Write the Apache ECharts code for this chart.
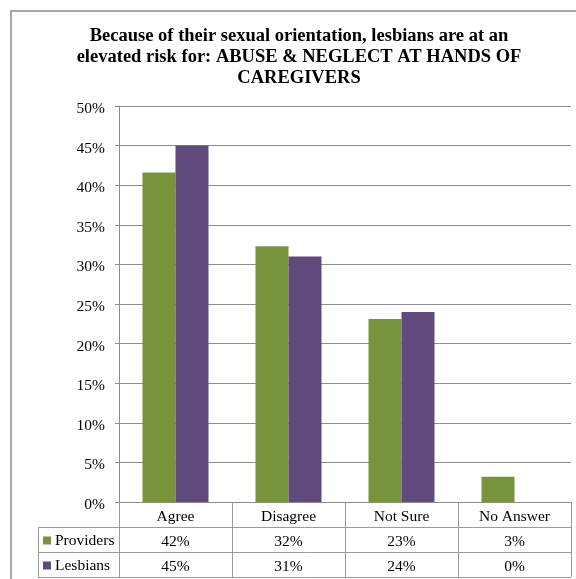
<!DOCTYPE html>
<html>
<head>
<meta charset="utf-8">
<script src="https://cdn.jsdelivr.net/npm/echarts@6/dist/echarts.min.js"></script>
<style>
html,body{margin:0;padding:0;background:#fff;}
#chart{width:576px;height:579px;}
</style>
</head>
<body>
<div id="chart"></div>
<script>
// ---- data ----
const categories = ['Agree', 'Disagree', 'Not Sure', 'No Answer'];
const providers = [41.6, 32.3, 23.1, 3.2];
const lesbians = [45, 31, 24, 0];
const providersLabels = ['42%', '32%', '23%', '3%'];
const lesbiansLabels = ['45%', '31%', '24%', '0%'];
const seriesNames = ['Providers', 'Lesbians'];
const yTicks = [0, 5, 10, 15, 20, 25, 30, 35, 40, 45, 50];
const titleText = 'Because of their sexual orientation, lesbians are at an\nelevated risk for: ABUSE & NEGLECT AT HANDS OF\nCAREGIVERS';

// ---- layout ----
const W = 576, H = 579;
const gridLeft = 119, gridTop = 106, gridRight = 571, gridBottom = 502;
const rowH = 25;
const tableLeft = 38;
const tableBottom = gridBottom + 3 * rowH;
const FONT = '"Liberation Serif", "Times New Roman", serif';
const lineCol = '#8c8c8c';
const tableCol = '#9a9a9a';

const chart = echarts.init(document.getElementById('chart'), null, {renderer: 'canvas'});

const option = {
  backgroundColor: '#fff',
  animation: false,
  grid: {
    left: gridLeft, top: gridTop,
    right: W - gridRight, bottom: H - gridBottom,
    containLabel: false
  },
  legend: {
    data: seriesNames,
    orient: 'vertical',
    left: 43, top: gridBottom + rowH + 1,
    icon: 'rect',
    itemWidth: 8, itemHeight: 8,
    itemGap: 0,
    padding: 0,
    selectedMode: false,
    textStyle: {fontFamily: FONT, fontSize: 15.5, color: '#000', lineHeight: rowH, padding: [0, 0, 0, -1]}
  },
  xAxis: {
    type: 'category',
    data: categories,
    boundaryGap: true,
    axisLine: {show: true, lineStyle: {color: lineCol, width: 1}},
    axisTick: {show: true, length: 3 * rowH, lineStyle: {color: tableCol, width: 1}},
    axisLabel: {
      interval: 0,
      hideOverlap: false,
      margin: 2,
      fontFamily: FONT,
      fontSize: 15.5,
      color: '#000',
      formatter: function (value, index) {
        return '{c|' + value + '}\n{c|' + providersLabels[index] + '}\n{c|' + lesbiansLabels[index] + '}';
      },
      rich: {c: {fontFamily: FONT, fontSize: 15.5, color: '#000', lineHeight: rowH, align: 'center'}}
    },
    splitLine: {show: false}
  },
  yAxis: {
    type: 'value',
    min: yTicks[0], max: yTicks[yTicks.length - 1], interval: 5,
    axisLine: {show: true, lineStyle: {color: lineCol, width: 1}},
    axisTick: {show: true, length: 4, inside: false, lineStyle: {color: lineCol}},
    axisLabel: {
      margin: 14,
      fontFamily: FONT, fontSize: 15.5, color: '#000',
      formatter: function (v) { return '{t|' + v + '%}'; },
      rich: {t: {fontFamily: FONT, fontSize: 15.5, color: '#000', padding: [6, 0, 0, 0]}}
    },
    splitLine: {show: true, lineStyle: {color: lineCol, width: 1}}
  },
  series: [
    {
      name: seriesNames[0], type: 'bar', data: providers,
      barGap: '0%', barCategoryGap: '41.6%',
      itemStyle: {color: '#77933C'}
    },
    {
      name: seriesNames[1], type: 'bar', data: lesbians,
      barGap: '0%', barCategoryGap: '41.6%',
      itemStyle: {color: '#604A7B'}
    }
  ],
  graphic: [
    {
      type: 'rect', silent: true, z: -1,
      shape: {x: 11, y: 11, width: 800, height: 800},
      style: {fill: 'none', stroke: '#a6a6a6', lineWidth: 2}
    },
    {
      type: 'text', silent: true,
      x: 299, y: 26,
      style: {
        text: titleText,
        font: 'bold 18.5px ' + FONT,
        lineHeight: 21,
        fill: '#000',
        align: 'center',
        verticalAlign: 'top'
      }
    },
    // table horizontal lines
    {type: 'line', silent: true, shape: {x1: tableLeft, y1: gridBottom + rowH + 0.5, x2: gridRight, y2: gridBottom + rowH + 0.5}, style: {stroke: tableCol, lineWidth: 1}},
    {type: 'line', silent: true, shape: {x1: tableLeft, y1: gridBottom + 2 * rowH + 0.5, x2: gridRight, y2: gridBottom + 2 * rowH + 0.5}, style: {stroke: tableCol, lineWidth: 1}},
    {type: 'line', silent: true, shape: {x1: tableLeft, y1: tableBottom + 0.5, x2: gridRight, y2: tableBottom + 0.5}, style: {stroke: tableCol, lineWidth: 1}},
    // table left edge
    {type: 'line', silent: true, shape: {x1: tableLeft + 0.5, y1: gridBottom + rowH, x2: tableLeft + 0.5, y2: tableBottom}, style: {stroke: tableCol, lineWidth: 1}}
  ]
};
chart.setOption(option);
</script>
</body>
</html>
